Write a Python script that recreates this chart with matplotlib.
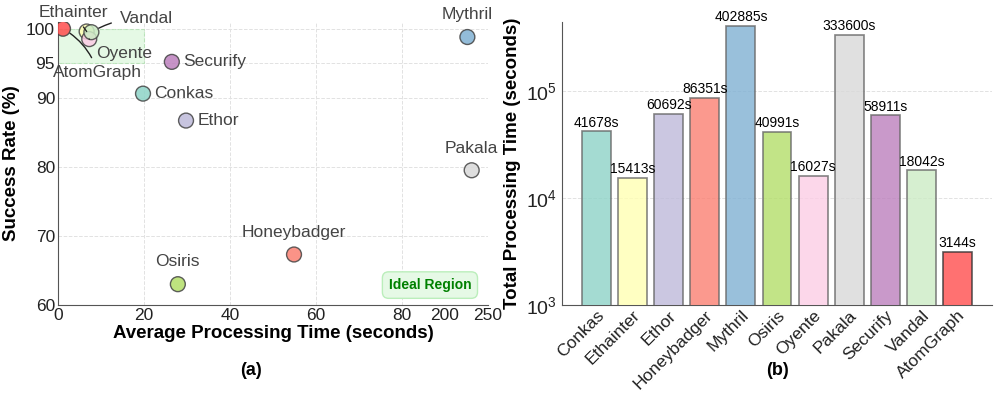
import matplotlib.pyplot as plt
import numpy as np

plt.rcParams['font.family'] = ['Liberation Sans', 'DejaVu Sans']

# data
tools = ['Conkas', 'Ethainter', 'Ethor', 'Honeybadger', 'Mythril', 'Osiris',
         'Oyente', 'Pakala', 'Securify', 'Vandal', 'AtomGraph']
avg_time = [19.8, 6.7, 29.8, 54.9, 226, 27.9, 7.3, 231, 26.5, 7.8, 1.2]
success = [90.6, 99.6, 86.7, 67.3, 98.8, 63.0, 98.5, 79.5, 95.2, 99.5, 100.0]
total_time = [41678, 15413, 60692, 86351, 402885, 40991, 16027, 333600, 58911, 18042, 3144]
colors = ['#8dd3c7', '#ffffb3', '#bebada', '#fb8072', '#80b1d3', '#b3de69',
          '#fccde5', '#d9d9d9', '#bc80bd', '#ccebc5', '#ff4d4d']


# broken x axis: 0-85 linear, 85-200 squeezed, 200+ compressed
def fwd(x):
    x = np.asarray(x, dtype=float)
    return np.where(x <= 85, x,
                    np.where(x < 200, 85 + (x - 85) * 5 / 115, 90 + (x - 200) / 5))


def inv(u):
    u = np.asarray(u, dtype=float)
    return np.where(u <= 85, u,
                    np.where(u < 90, 85 + (u - 85) * 115 / 5, 200 + (u - 90) * 5))


fig = plt.figure(figsize=(9.97, 3.97), dpi=100)
ax1 = fig.add_axes([0.058, 0.232, 0.4315, 0.713])
ax2 = fig.add_axes([0.5637, 0.232, 0.4313, 0.713])

grid_kw = dict(linestyle='--', color='#e2e2e2', linewidth=0.7)

# ---- (a) scatter ----
ax1.set_xscale('function', functions=(fwd, inv))
ax1.set_xlim(0, 250)
ax1.set_ylim(60, 101)
ax1.set_xticks([0, 20, 40, 60, 80, 200, 250])
ax1.set_yticks([60, 70, 80, 90, 95, 100])
ax1.grid(True, **grid_kw)
for gl in ax1.get_xgridlines()[-2:]:
    gl.set_visible(False)
ax1.set_axisbelow(True)

ax1.fill_between([0, 20], 95, 100, color='#ccf5cc', alpha=0.5,
                 edgecolor='#99dd99', linestyle='--', linewidth=0.8, zorder=1)

ax1.scatter(avg_time, success, s=115, c=colors, alpha=0.85,
            edgecolors='#444444', linewidths=1.0, zorder=3)

label_pos = {
    'Conkas': ((8, 0), 'left', 'center'),
    'Ethor': ((8, 0), 'left', 'center'),
    'Securify': ((8, 0), 'left', 'center'),
    'Honeybadger': ((0, 16), 'center', 'center'),
    'Osiris': ((0, 16), 'center', 'center'),
    'Mythril': ((0, 16), 'center', 'center'),
    'Pakala': ((0, 16), 'center', 'center'),
}
for name, x, y in zip(tools, avg_time, success):
    if name in label_pos:
        off, ha, va = label_pos[name]
        ax1.annotate(name, (x, y), xytext=off, textcoords='offset points',
                     ha=ha, va=va, fontsize=12.5, color='#444444')

callouts = {
    'Ethainter': ((3.5, 102.4), 0.0),
    'Vandal': ((20.5, 101.5), 0.15),
    'Oyente': ((15.3, 96.4), -0.3),
    'AtomGraph': ((9.3, 93.6), 0.2),
}
for name, (txt, rad) in callouts.items():
    i = tools.index(name)
    ax1.annotate(name, (avg_time[i], success[i]), xytext=txt, textcoords='data',
                 ha='center', va='center', fontsize=12.5, color='#444444',
                 annotation_clip=False,
                 arrowprops=dict(arrowstyle='-', color='#222222', lw=1.0,
                                 connectionstyle=f'arc3,rad={rad}',
                                 shrinkA=4, shrinkB=6))

ax1.text(0.865, 0.07, 'Ideal Region', transform=ax1.transAxes, ha='center', va='center',
         fontsize=10, fontweight='bold', color='green',
         bbox=dict(boxstyle='round,pad=0.45', facecolor='#e6f9e6', edgecolor='#bbeebb'))

ax1.set_xlabel('Average Processing Time (seconds)', fontsize=13.5, fontweight='bold', labelpad=2)
ax1.set_ylabel('Success Rate (%)', fontsize=13.5, fontweight='bold', labelpad=4)
ax1.tick_params(labelsize=12.5, colors='#222222', length=0, pad=2)
for side in ['top', 'right']:
    ax1.spines[side].set_visible(False)
for side in ['left', 'bottom']:
    ax1.spines[side].set_color('#555555')
ax1.text(0.45, -0.23, '(a)', transform=ax1.transAxes, ha='center', va='center',
         fontsize=13, fontweight='bold')

# ---- (b) bars ----
x = np.arange(len(tools))
edge = ['#666666'] * (len(tools) - 1) + ['#333333']
bars = ax2.bar(x, total_time, width=0.8, color=colors, alpha=0.8,
               edgecolor=edge, linewidth=1.2, zorder=3)
ax2.set_yscale('log')
ax2.set_ylim(1000, 4.4e5)
ax2.set_xlim(-0.95, 10.95)
ax2.minorticks_off()
ax2.yaxis.grid(True, **grid_kw)
ax2.set_axisbelow(True)
for b, v in zip(bars, total_time):
    ax2.text(b.get_x() + b.get_width() / 2, v * 1.04, f'{v}s', ha='center', va='bottom',
             fontsize=10)
ax2.set_xticks(x)
ax2.set_xticklabels(tools, rotation=45, ha='right', rotation_mode='anchor', fontsize=12.5)
ax2.set_ylabel('Total Processing Time (seconds)', fontsize=13.5, fontweight='bold', labelpad=4)
ax2.tick_params(axis='y', labelsize=14, length=0, colors='#222222')
ax2.tick_params(axis='x', length=0, colors='#222222', pad=2)
for side in ['top', 'right']:
    ax2.spines[side].set_visible(False)
for side in ['left', 'bottom']:
    ax2.spines[side].set_color('#555555')
ax2.text(0.5, -0.23, '(b)', transform=ax2.transAxes, ha='center', va='center',
         fontsize=13, fontweight='bold')

fig.savefig('out.png', dpi=100)
